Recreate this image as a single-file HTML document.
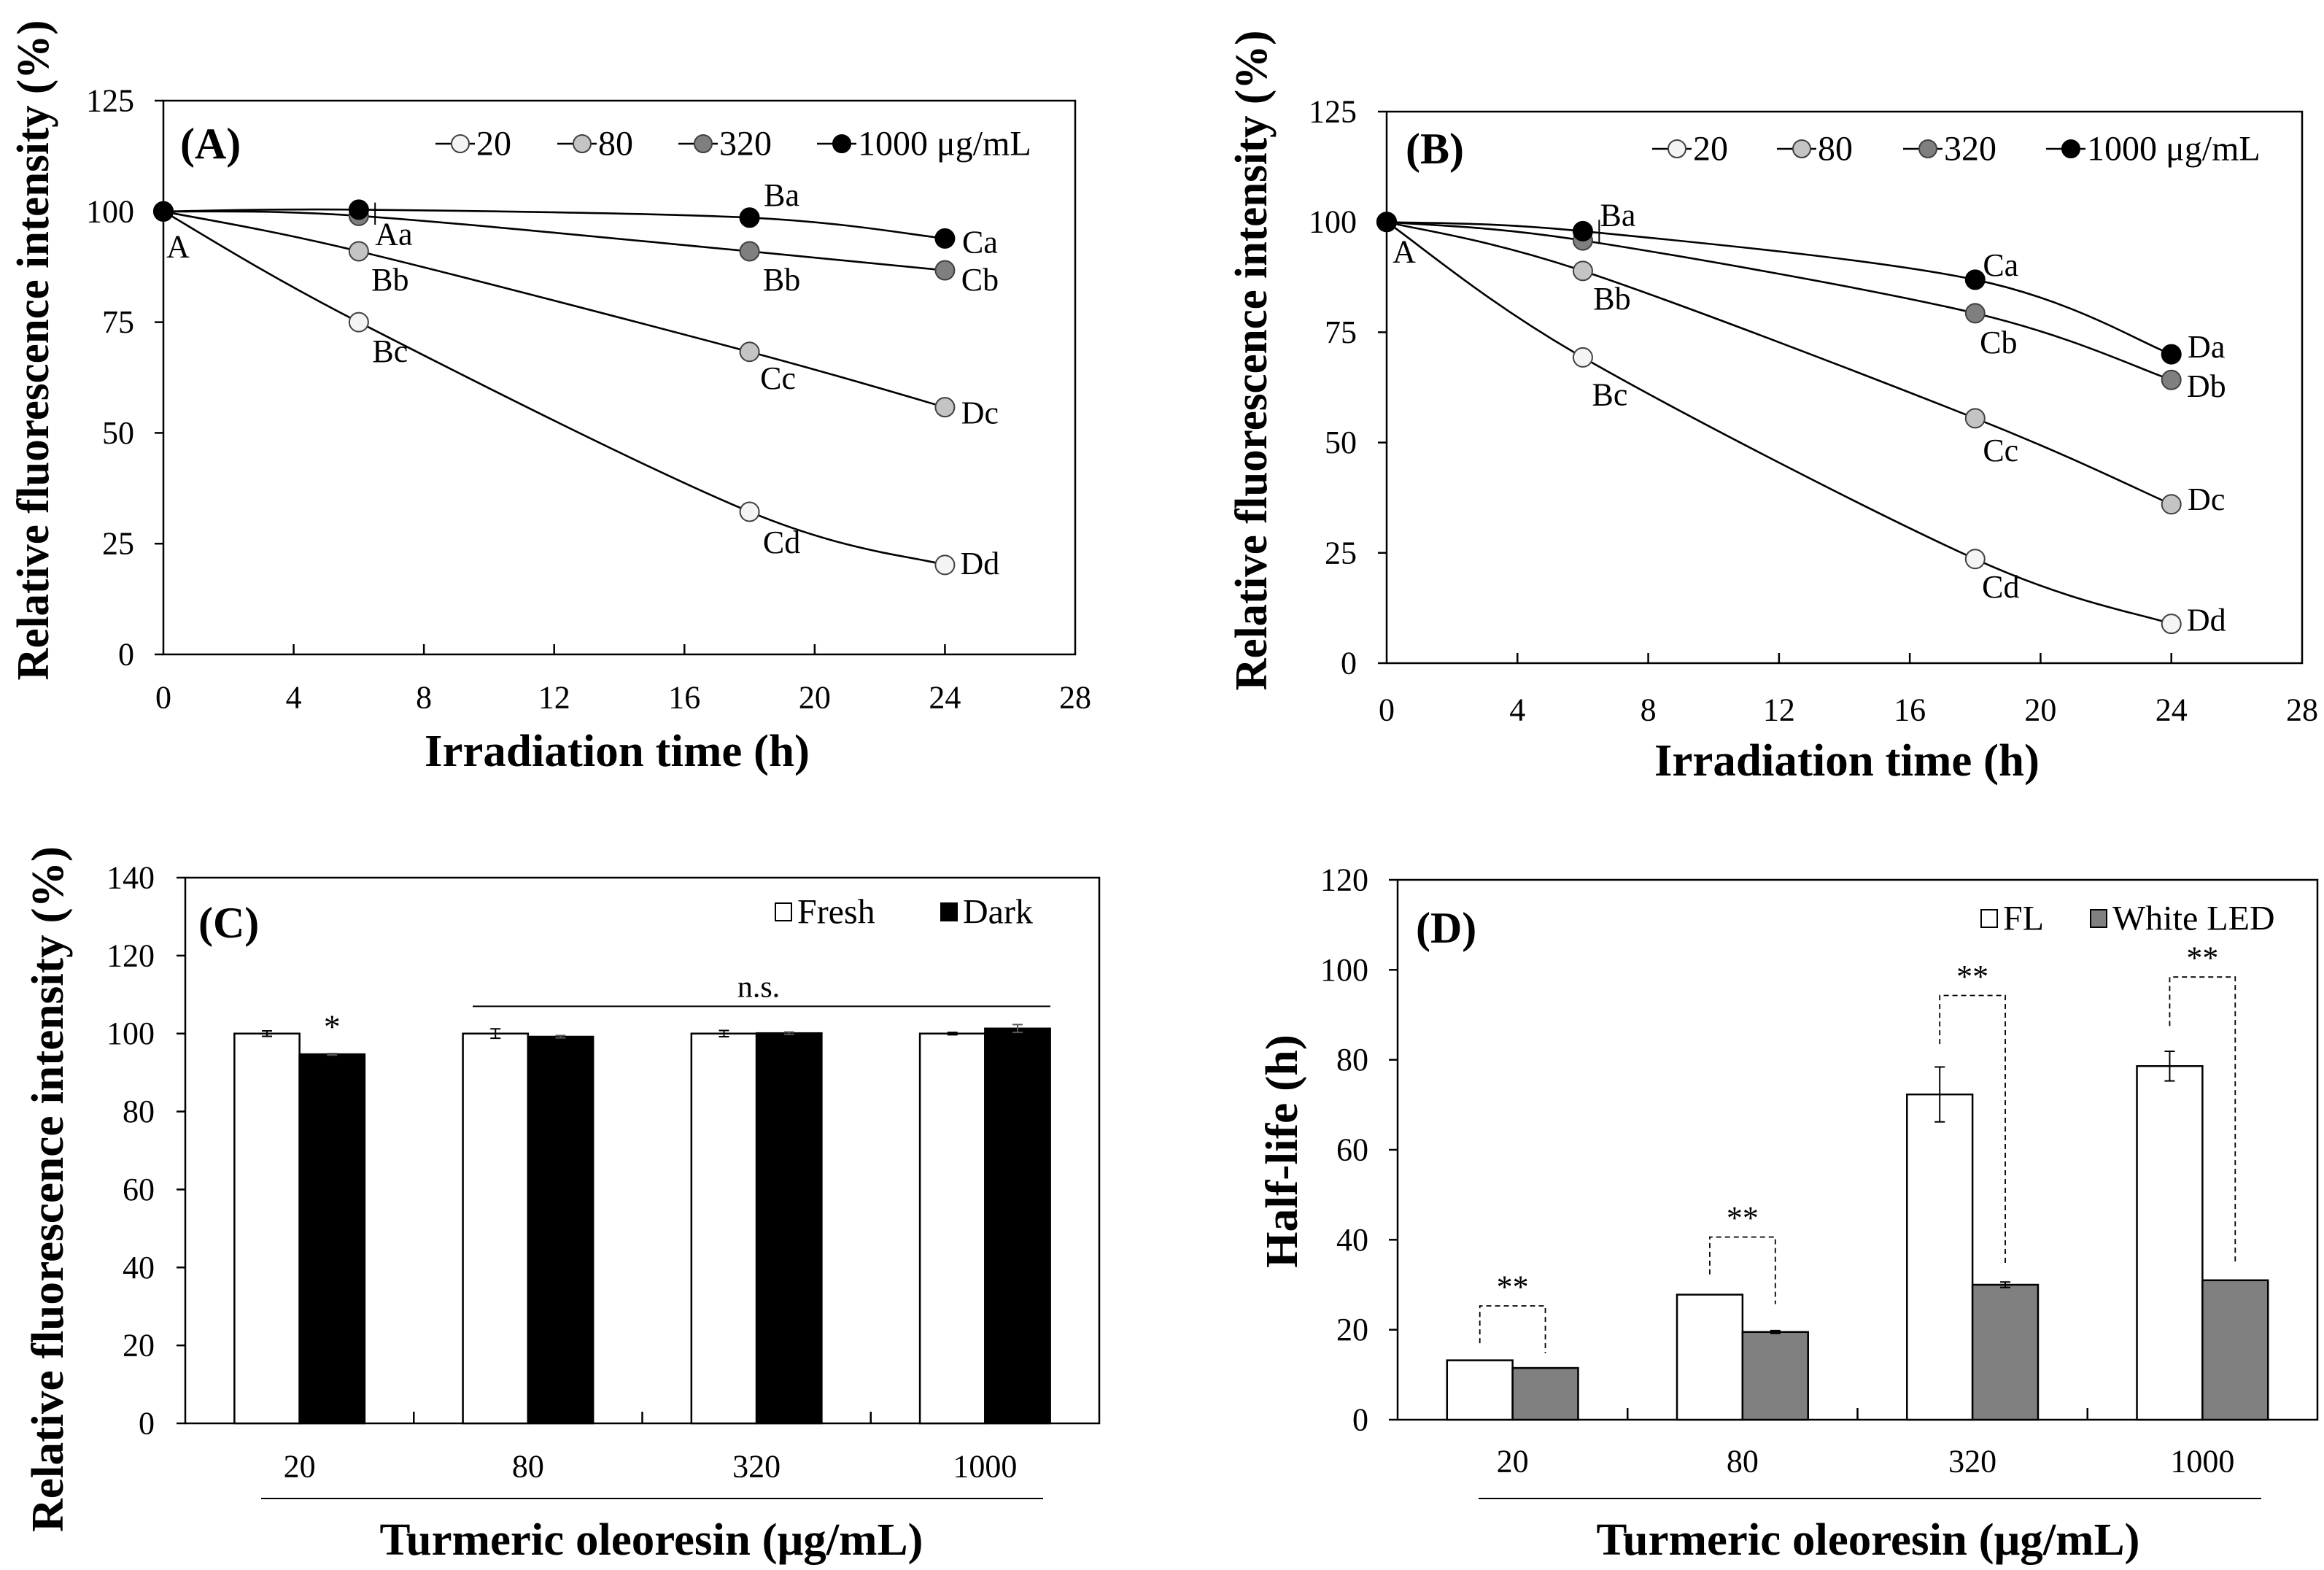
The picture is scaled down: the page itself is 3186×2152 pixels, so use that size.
<!DOCTYPE html>
<html><head><meta charset="utf-8"><style>
html,body{margin:0;padding:0;background:#fff;}
svg{display:block;font-family:"Liberation Serif",serif;}
</style></head><body>
<svg id="fig" width="3186" height="2152" viewBox="0 0 3186 2152" xmlns="http://www.w3.org/2000/svg"></svg>
<script>
// ---------- DATA ----------
const timesH = [0, 6, 18, 24];
const seriesNames = ["20", "80", "320", "1000"];
const aSeries20 = [100, 75.0, 32.2, 20.2];
const aSeries80 = [100, 91.0, 68.3, 55.8];
const aSeries320 = [100, 99.0, 91.0, 86.7];
const aSeries1000 = [100, 100.4, 98.6, 93.9];
const bSeries20 = [100, 69.3, 23.6, 8.9];
const bSeries80 = [100, 88.9, 55.5, 36.0];
const bSeries320 = [100, 95.8, 79.3, 64.2];
const bSeries1000 = [100, 97.9, 86.9, 70.0];
const lineXTicks = [0, 4, 8, 12, 16, 20, 24, 28];
const lineYTicks = [0, 25, 50, 75, 100, 125];
const aLetters20 = ["", "Bc", "Cd", "Dd"];
const aLetters80 = ["", "Bb", "Cc", "Dc"];
const aLetters320 = ["", "Aa", "Bb", "Cb"];
const aLetters1000 = ["A", "", "Ba", "Ca"];
const bLetters20 = ["", "Bc", "Cd", "Dd"];
const bLetters80 = ["", "Bb", "Cc", "Dc"];
const bLetters320 = ["", "", "Cb", "Db"];
const bLetters1000 = ["A", "Ba", "Ca", "Da"];
const barCategories = ["20", "80", "320", "1000"];
const cFresh = [100, 100, 100, 100];
const cFreshErr = [0.7, 1.2, 0.8, 0.3];
const cDark = [94.7, 99.2, 100.1, 101.3];
const cDarkErr = [0.2, 0.3, 0.3, 1.0];
const cYTicks = [0, 20, 40, 60, 80, 100, 120, 140];
const dFL = [13.2, 27.8, 72.3, 78.6];
const dFLErr = [0, 0, 6.1, 3.3];
const dLED = [11.5, 19.5, 30.0, 31.0];
const dLEDErr = [0, 0.3, 0.6, 0];
const dYTicks = [0, 20, 40, 60, 80, 100, 120];
const dBracketLeft = [17, 32.3, 83.5, 87.5];
const dBracketTop = [25.3, 40.6, 94.3, 98.4];
const dBracketRight = [14.8, 25.7, 34.5, 34.5];

// ---------- HELPERS ----------
const NS = "http://www.w3.org/2000/svg";
const svg = document.getElementById("fig");
function mk(tag, attrs, parent, text) {
  const e = document.createElementNS(NS, tag);
  for (const k in attrs) e.setAttribute(k, attrs[k]);
  if (text !== undefined) e.textContent = text;
  (parent || svg).appendChild(e);
  return e;
}
function smoothPath(pts) {
  let d = "M" + pts[0][0] + "," + pts[0][1];
  for (let i = 0; i < pts.length - 1; i++) {
    const p0 = pts[i - 1] || pts[i], p1 = pts[i], p2 = pts[i + 1], p3 = pts[i + 2] || pts[i + 1];
    const c1 = [p1[0] + (p2[0] - p0[0]) / 6, p1[1] + (p2[1] - p0[1]) / 6];
    const c2 = [p2[0] - (p3[0] - p1[0]) / 6, p2[1] - (p3[1] - p1[1]) / 6];
    d += " C" + c1[0] + "," + c1[1] + " " + c2[0] + "," + c2[1] + " " + p2[0] + "," + p2[1];
  }
  return d;
}
const markerFills = ["#f4f4f4", "#c4c4c4", "#7f7f7f", "#000000"];

// ---------- LINE PANEL ----------
function linePanel(cfg) {
  const g = mk("g", {});
  
  
  const L = cfg.L, R = cfg.R, T = cfg.T, B = cfg.B;
  const xs = v => L + (v - 0) / 28 * (R - L);
  const ys = v => B - v / 125 * (B - T);
  const frame = mk("rect", {x: L, y: T, width: R - L, height: B - T, fill: "none", stroke: "#000", "stroke-width": 2.5}, g);
  
  
  lineXTicks.forEach(t => {
    const x = xs(t);
    if (t > 0 && t < 28) mk("line", {x1: x, x2: x, y1: B, y2: B - 14, stroke: "#000", "stroke-width": 2.5}, g);
    const tl = mk("text", {x: x, y: cfg.xTickY, "font-size": 44, "text-anchor": "middle", "dominant-baseline": "central"}, g, String(t));
    
    
  });
  lineYTicks.forEach(t => {
    const y = ys(t);
    mk("line", {x1: L - 12, x2: L, y1: y, y2: y, stroke: "#000", "stroke-width": 2.5}, g);
    const tl = mk("text", {x: cfg.yTickX, y: y, "font-size": 44, "text-anchor": "end", "dominant-baseline": "central"}, g, String(t));
    
    
  });
  const xt = mk("text", {x: cfg.xTitleX, y: cfg.xTitleY, "font-size": 62, "font-weight": "bold", "text-anchor": "middle", "dominant-baseline": "central", textLength: 528, lengthAdjust: "spacingAndGlyphs"}, g, "Irradiation time (h)");
  
  
  const yt = mk("text", {x: 0, y: 0, "font-size": 62, "font-weight": "bold", "text-anchor": "middle", "dominant-baseline": "central", textLength: cfg.yTitleLen, lengthAdjust: "spacingAndGlyphs", transform: "translate(" + cfg.yTitleX + "," + cfg.yTitleY + ") rotate(-90)"}, g, "Relative fluorescence intensity (%)");
  
  
  const pl = mk("text", {x: cfg.panelX, y: cfg.legY, "font-size": 60, "font-weight": "bold", "dominant-baseline": "central"}, g, cfg.panel);
  
  
  const eb = mk("line", {x1: xs(cfg.errT), x2: xs(cfg.errT), y1: ys(cfg.errTop), y2: ys(cfg.errBot), stroke: "#000", "stroke-width": 2}, g);
  
  
  cfg.series.forEach((s, i) => {
    const pts = timesH.map((t, j) => [xs(t), ys(s[j])]);
    const p = mk("path", {d: smoothPath(pts), fill: "none", stroke: "#000", "stroke-width": 2.6}, g);
    
    
  });
  cfg.series.forEach((s, i) => {
    timesH.forEach((t, j) => {
      const c = mk("circle", {cx: xs(t), cy: ys(s[j]), r: 13, fill: markerFills[i], stroke: i === 3 ? "#000" : "#404040", "stroke-width": 2}, g);
      
      
    });
  });
  cfg.series.forEach((s, i) => {
    timesH.forEach((t, j) => {
      const txt = cfg.letters[i][j];
      if (!txt) return;
      const off = cfg.offsets[i][j];
      const lt = mk("text", {x: xs(t) + off[0], y: ys(s[j]) + off[1], "font-size": 44, "text-anchor": "middle", "dominant-baseline": "central"}, g, txt);
      
      
    });
  });
  cfg.legX.forEach((lx, i) => {
    const lg = mk("g", {}, g);
    
    
    mk("line", {x1: lx - 34, x2: lx + 20, y1: cfg.legY, y2: cfg.legY, stroke: "#000", "stroke-width": 2.5}, lg);
    mk("circle", {cx: lx, cy: cfg.legY, r: 12, fill: markerFills[i], stroke: i === 3 ? "#000" : "#404040", "stroke-width": 2}, lg);
    mk("text", {x: lx + 22, y: cfg.legY, "font-size": 48, "dominant-baseline": "central"}, lg, seriesNames[i] + (i === 3 ? " \u03BCg/mL" : ""));
  });
}

linePanel({
  name: "panel-a-chart", panel: "(A)", L: 224, R: 1474, T: 138, B: 897,
  xTickY: 956, yTickX: 184, xTitleX: 846, xTitleY: 1030, yTitleX: 46, yTitleY: 480, yTitleLen: 905,
  panelX: 247, legY: 197, legX: [631, 798, 964, 1154],
  errT: 6.5, errTop: 102, errBot: 97,
  series: [aSeries20, aSeries80, aSeries320, aSeries1000],
  letters: [aLetters20, aLetters80, aLetters320, aLetters1000],
  offsets: [
    [[0,0],[43,40],[44,42],[48,-2]],
    [[0,0],[43,39],[39,36],[48,8]],
    [[0,0],[48,25],[44,39],[48,13]],
    [[20,48],[0,0],[44,-31],[48,5]]
  ]
});
linePanel({
  name: "panel-b-chart", panel: "(B)", L: 1901, R: 3156, T: 153, B: 909,
  xTickY: 973, yTickX: 1860, xTitleX: 2532, xTitleY: 1043, yTitleX: 1716, yTitleY: 494, yTitleLen: 905,
  panelX: 1927, legY: 204, legX: [2299, 2470, 2643, 2839],
  errT: 6.5, errTop: 100.5, errBot: 95,
  series: [bSeries20, bSeries80, bSeries320, bSeries1000],
  letters: [bLetters20, bLetters80, bLetters320, bLetters1000],
  offsets: [
    [[0,0],[37,51],[35,38],[48,-5]],
    [[0,0],[40,38],[35,44],[48,-7]],
    [[0,0],[0,0],[32,40],[48,9]],
    [[24,41],[48,-22],[35,-20],[48,-10]]
  ]
});

// ---------- BAR PANEL ----------
function barPanel(cfg) {
  const g = mk("g", {});
  
  
  const L = cfg.L, R = cfg.R, T = cfg.T, B = cfg.B, ymax = cfg.ymax;
  const ys = v => B - v / ymax * (B - T);
  const gw = (R - L) / barCategories.length;
  const bw = gw * 0.285;
  const frame = mk("rect", {x: L, y: T, width: R - L, height: B - T, fill: "none", stroke: "#000", "stroke-width": 2.5}, g);
  
  
  cfg.yTicks.forEach(t => {
    const y = ys(t);
    mk("line", {x1: L - 12, x2: L, y1: y, y2: y, stroke: "#000", "stroke-width": 2.5}, g);
    const tl = mk("text", {x: cfg.yTickX, y: y, "font-size": 44, "text-anchor": "end", "dominant-baseline": "central"}, g, String(t));
    
    
  });
  barCategories.forEach((c, i) => {
    const cx = L + gw * (i + 0.5);
    if (i > 0) mk("line", {x1: L + gw * i, x2: L + gw * i, y1: B, y2: B - 16, stroke: "#000", "stroke-width": 2.5}, g);
    const tl = mk("text", {x: cx, y: cfg.catY, "font-size": 44, "text-anchor": "middle", "dominant-baseline": "central"}, g, c);
    
    
    [[cfg.s1, cfg.e1, "#fff", "-" + cfg.n1], [cfg.s2, cfg.e2, cfg.fill2, "-" + cfg.n2]].forEach((s, k) => {
      const x = k === 0 ? cx - bw : cx;
      const v = s[0][i];
      const r = mk("rect", {x: x, y: ys(v), width: bw, height: B - ys(v), fill: s[2], stroke: "#000", "stroke-width": 2.5}, g);
      
      
      const e = s[1][i];
      if (e > 0) {
        const ex = x + bw / 2;
        const eg = mk("path", {d: "M" + ex + "," + ys(v + e) + "V" + ys(v - e) + "M" + (ex - 7) + "," + ys(v + e) + "h14M" + (ex - 7) + "," + ys(v - e) + "h14", stroke: k === 1 && cfg.fill2 === "#000" ? "#555" : "#000", "stroke-width": 2, fill: "none"}, g);
        
        
      }
    });
  });
  mk("line", {x1: cfg.baseX1, x2: cfg.baseX2, y1: cfg.baseY, y2: cfg.baseY, stroke: "#000", "stroke-width": 2}, g);
  const xt = mk("text", {x: cfg.xTitleX, y: cfg.xTitleY, "font-size": 62, "font-weight": "bold", "text-anchor": "middle", "dominant-baseline": "central", textLength: 745, lengthAdjust: "spacingAndGlyphs"}, g, "Turmeric oleoresin (\u03BCg/mL)");
  
  
  const yt = mk("text", {x: 0, y: 0, "font-size": 62, "font-weight": "bold", "text-anchor": "middle", "dominant-baseline": "central", textLength: cfg.yTitleLen, lengthAdjust: "spacingAndGlyphs", transform: "translate(" + cfg.yTitleX + "," + cfg.yTitleY + ") rotate(-90)"}, g, cfg.yTitle);
  
  
  const pl = mk("text", {x: cfg.panelX, y: cfg.panelY, "font-size": 60, "font-weight": "bold", "dominant-baseline": "central"}, g, cfg.panel);
  
  
  [[cfg.leg1X, "#fff", cfg.n1], [cfg.leg2X, cfg.fill2, cfg.n2]].forEach(l => {
    const lg = mk("g", {}, g);
    
    
    mk("rect", {x: l[0], y: cfg.legY - 12, width: 22, height: 24, fill: l[1], stroke: "#000", "stroke-width": 2}, lg);
    mk("text", {x: l[0] + 30, y: cfg.legY, "font-size": 48, "dominant-baseline": "central"}, lg, l[2]);
  });
  return {g: g, ys: ys, gw: gw, bw: bw};
}

const pc = barPanel({
  name: "panel-c-chart", panel: "(C)", L: 254, R: 1507, T: 1203, B: 1951, ymax: 140,
  yTicks: cYTicks, yTickX: 212, catY: 2010, baseX1: 358, baseX2: 1430, baseY: 2054,
  xTitleX: 893, xTitleY: 2111, yTitle: "Relative fluorescence intensity (%)", yTitleX: 66, yTitleY: 1630, yTitleLen: 940,
  panelX: 272, panelY: 1265, legY: 1250, leg1X: 1063, leg2X: 1290,
  s1: cFresh, e1: cFreshErr, s2: cDark, e2: cDarkErr, fill2: "#000", n1: "Fresh", n2: "Dark"
});
{
  const ns = mk("line", {x1: 648, x2: 1440, y1: pc.ys(107), y2: pc.ys(107), stroke: "#000", "stroke-width": 2});
  
  
  const nt = mk("text", {x: 1040, y: pc.ys(107) - 26, "font-size": 42, "text-anchor": "middle", "dominant-baseline": "central"}, svg, "n.s.");
  
  
  const st = mk("text", {x: 254 + pc.gw * 0.5 + pc.bw / 2, y: pc.ys(cDark[0]) - 38, "font-size": 46, "text-anchor": "middle", "dominant-baseline": "central"}, svg, "*");
  
  
}

const pd = barPanel({
  name: "panel-d-chart", panel: "(D)", L: 1916, R: 3177, T: 1206, B: 1946, ymax: 120,
  yTicks: dYTicks, yTickX: 1876, catY: 2003, baseX1: 2027, baseX2: 3100, baseY: 2054,
  xTitleX: 2561, xTitleY: 2111, yTitle: "Half-life (h)", yTitleX: 1758, yTitleY: 1578, yTitleLen: 320,
  panelX: 1941, panelY: 1272, legY: 1259, leg1X: 2716, leg2X: 2866,
  s1: dFL, e1: dFLErr, s2: dLED, e2: dLEDErr, fill2: "#808080", n1: "FL", n2: "White LED"
});
barCategories.forEach((c, i) => {
  const cx = 1916 + pd.gw * (i + 0.5);
  const xl = cx - pd.bw / 2, xr = cx + pd.bw / 2;
  const p = mk("path", {d: "M" + xl + "," + pd.ys(dBracketLeft[i]) + "V" + pd.ys(dBracketTop[i]) + "H" + xr + "V" + pd.ys(dBracketRight[i]), fill: "none", stroke: "#000", "stroke-width": 1.8, "stroke-dasharray": "7,5"});
  
  
  const t = mk("text", {x: cx, y: pd.ys(dBracketTop[i]) - 26, "font-size": 44, "text-anchor": "middle", "dominant-baseline": "central"}, svg, "**");
  
  
});
</script>
</body></html>
